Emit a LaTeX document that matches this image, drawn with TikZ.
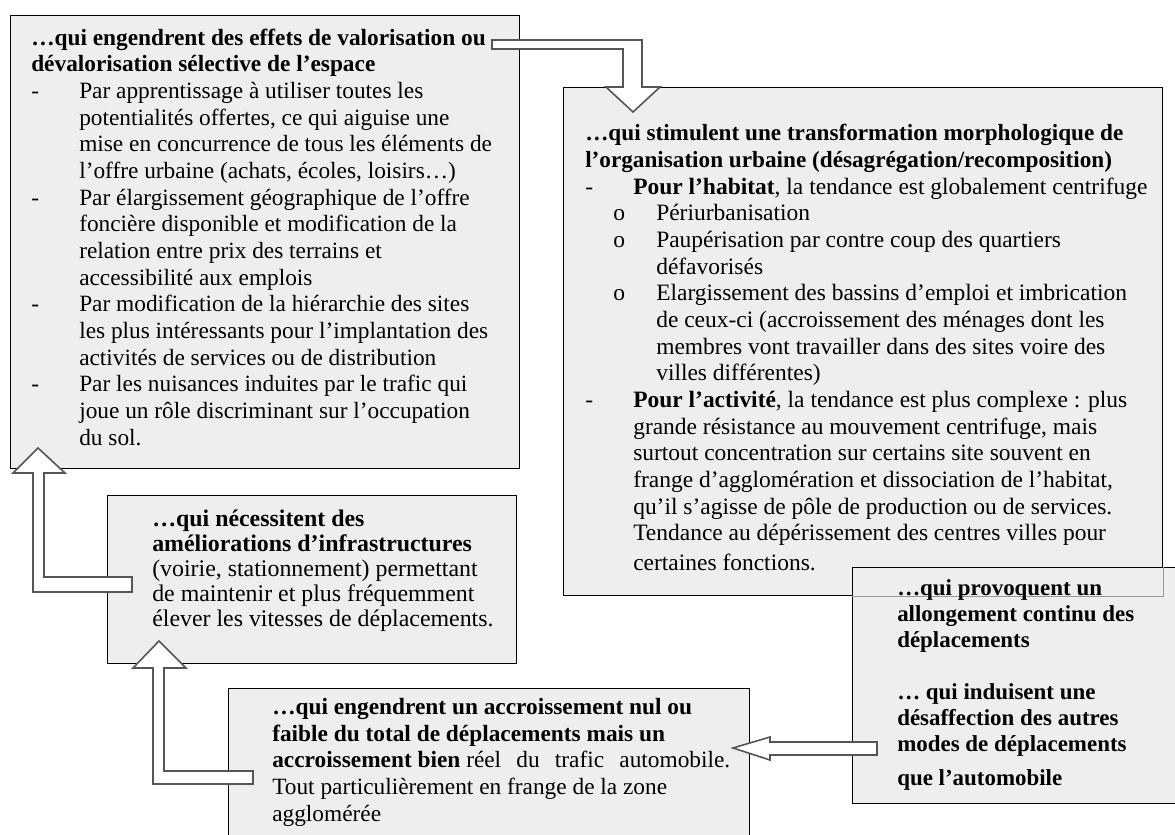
\documentclass[tikz,border=0pt]{standalone}
\usepackage{fontspec}
\setmainfont{Liberation Serif}
\usepackage{tikz}
\usetikzlibrary{positioning}

\definecolor{boxgray}{HTML}{EEEEEE}
\definecolor{arrowline}{HTML}{555555}

\newcommand{\dashitem}{\makebox[36pt][l]{-}}
\newcommand{\hang}{\hspace*{36pt}}
\newcommand{\circitem}{\hspace*{21pt}\makebox[32.25pt][l]{o}}
\newcommand{\subhang}{\hspace*{53.25pt}}

\begin{document}
\begin{tikzpicture}[x=0.75pt,y=-0.75pt,
  box/.style={draw=black,line width=1pt,fill=boxgray,anchor=north west,inner sep=0pt},
  txt/.style={anchor=base west,align=left,inner sep=0pt,font=\fontsize{17.5}{20}\selectfont},
  blockarrow/.style={draw=arrowline,fill=white,line width=1.2pt,line join=miter}]
  \clip (0,0) rectangle (1175,835);

  % effets de valorisation (texts placed by their last baseline)
  \node[box,minimum width=381.75pt,minimum height=339.75pt] (valor) at (10,15) {};
  \node[txt] (valorText) at (31,445) {%
    \textbf{…qui engendrent des effets de valorisation ou}\\
    \textbf{dévalorisation sélective de l'espace}\\
    \dashitem Par apprentissage à utiliser toutes les\\
    \hang potentialités offertes, ce qui aiguise une\\
    \hang mise en concurrence de tous les éléments de\\
    \hang l’offre urbaine (achats, écoles, loisirs…)\\
    \dashitem Par élargissement géographique de l’offre\\
    \hang foncière disponible et modification de la\\
    \hang relation entre prix des terrains et\\
    \hang accessibilité aux emplois\\
    \dashitem Par modification de la hiérarchie des sites\\
    \hang les plus intéressants pour l’implantation des\\
    \hang activités de services ou de distribution\\
    \dashitem Par les nuisances induites par le trafic qui\\
    \hang joue un rôle discriminant sur l’occupation\\
    \hang du sol.};

  % transformation morphologique
  \node[box,minimum width=449.25pt,minimum height=381pt] (morpho) at (563,87) {};
  \node[txt,font=\fontsize{17.6}{20}\selectfont] (morphoText) at (585,570) {%
    {\fontsize{17.4}{20}\selectfont\bfseries …qui stimulent une transformation morphologique de}\\
    {\fontsize{17.4}{20}\selectfont\bfseries l'organisation urbaine (désagrégation/recomposition)}\\
    \dashitem\textbf{Pour l'habitat}, la tendance est globalement centrifuge\\
    \circitem Périurbanisation\\
    \circitem Paupérisation par contre coup des quartiers\\
    \subhang défavorisés\\
    \circitem Elargissement des bassins d’emploi et imbrication\\
    \subhang de ceux-ci (accroissement des ménages dont les\\
    \subhang membres vont travailler dans des sites voire des\\
    \subhang villes différentes)\\
    \dashitem\textbf{Pour l'activité}, la tendance est plus complexe : plus\\
    \hang grande résistance au mouvement centrifuge, mais\\
    \hang surtout concentration sur certains site souvent en\\
    \hang frange d’agglomération et dissociation de l’habitat,\\
    \hang qu’il s’agisse de pôle de production ou de services.\\
    \hang Tendance au dépérissement des centres villes pour\\[2pt]
    \hang certaines fonctions.};

  % A -> B
  \draw[blockarrow] (492,40) -- (642,40) -- (642,87) -- (660,87) -- (633,112)
    -- (606,87) -- (623,87) -- (623,49) -- (492,49) -- cycle;

  % infrastructures
  \node[box,minimum width=306.75pt,minimum height=126pt] (infra) at (107,495) {};
  \node[txt,font=\fontsize{17.9}{18.7}\selectfont] (infraText) at (152,626) {%
    \textbf{…qui nécessitent des}\\
    \textbf{améliorations d'infrastructures}\\
    (voirie, stationnement) permettant\\
    de maintenir et plus fréquemment\\
    élever les vitesses de déplacements.};

  % C -> A
  \draw[blockarrow] (38,448) -- (65,473) -- (44,473) -- (44,577) -- (132,577)
    -- (132,592) -- (33,592) -- (33,473) -- (13,473) -- cycle;

  % trafic automobile
  \node[box,minimum width=390.75pt,minimum height=129pt] (trafic) at (228,688) {};
  \node[txt] (traficText) at (272,821) {%
    \textbf{…qui engendrent un accroissement nul ou}\\
    \textbf{faible du total de déplacements mais un}\\
    \textbf{accroissement bien} \makebox[198pt][s]{réel du trafic automobile.}\\
    Tout particulièrement en frange de la zone\\
    agglomérée};

  % D -> C
  \draw[blockarrow] (159,641) -- (186,668) -- (164,668) -- (164,771) -- (253,771)
    -- (253,784) -- (153,784) -- (153,668) -- (133,668) -- cycle;

  % allongement des deplacements
  \node[box,minimum width=253.5pt,minimum height=177pt] (allong) at (852,567) {};
  \draw[black!40,line width=1pt] (allong.west |- morpho.south) -- (morpho.south east)
    -- (morpho.east |- allong.north);
  \node[txt,font=\fontsize{17.2}{19.5}\selectfont\bfseries] (allongText) at (897,785) {%
    …qui provoquent un\\
    allongement continu des\\
    déplacements\\[19.5pt]
    … qui induisent une\\
    désaffection des autres\\
    modes de déplacements\\[6pt]
    que l'automobile};

  % E -> D
  \draw[blockarrow] (733,748) -- (770,737) -- (770,742) -- (877,742) -- (877,755)
    -- (770,755) -- (770,760) -- cycle;
\end{tikzpicture}
\end{document}
